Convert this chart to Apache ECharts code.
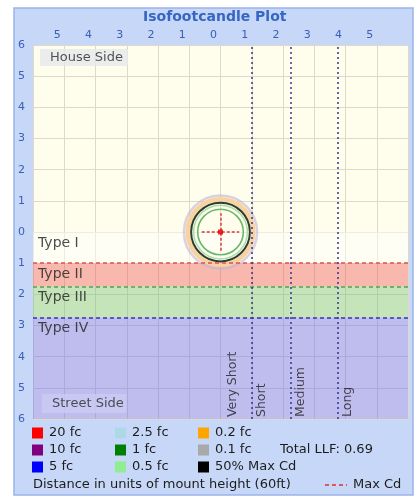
<!DOCTYPE html>
<html>
<head>
<meta charset="utf-8">
<title>Isofootcandle Plot</title>
<script src="https://cdn.jsdelivr.net/npm/echarts@6/dist/echarts.min.js"></script>
<style>
    html, body { margin: 0; padding: 0; background: #fff; }
    #chart { width: 419px; height: 500px; }
</style>
</head>
<body>
<div id="chart"></div>
<script>
    // distances are in mount heights: house side is +y, street side is -y
    const typeNames = ['Type I', 'Type II', 'Type III', 'Type IV']
    const typeBounds = [0, -1, -1.75, -2.75, -6]
    const rangeNames = ['Very Short', 'Short', 'Medium', 'Long']
    const rangeBounds = [1, 2.25, 3.75]
    const sideNames = ['House Side', 'Street Side']

    // isofootcandle contours around the luminaire (radius in mount heights)
    const contourNames = ['0.1 fc', '0.2 fc', '50% Max Cd', '0.5 fc', '1 fc']
    const contourRadii = [1.17, 1.05, 0.94, 0.86, 0.73]
    const maxCdPoint = [0, 0]
    const maxCdReach = 0.6

    const legendNames = ['20 fc', '10 fc', '5 fc', '2.5 fc', '1 fc', '0.5 fc', '0.2 fc', '0.1 fc', '50% Max Cd']
    const legendColors = ['#ff0000', '#800080', '#0000ff', '#add8e6', '#008000', '#90ee90', '#ffa500', '#a9a9a9', '#000000']
    const totalLLF = 0.69
    const mountHeight = 60

    const typeColors = ['rgba(255,255,255,0.45)', 'rgba(240,80,80,0.4)', 'rgba(110,190,110,0.4)', 'rgba(110,110,240,0.45)']
    const typeLineColors = ['#e05050', '#50a450', '#3434b8']
    const contourStyles = {
        '0.1 fc': {stroke: 'rgba(190,182,215,0.6)', lineWidth: 2.5},
        '0.2 fc': {stroke: '#f9d2a2', lineWidth: 4.5},
        '50% Max Cd': {stroke: '#2e3c2e', lineWidth: 2},
        '0.5 fc': {stroke: '#a8dea8', lineWidth: 1.5},
        '1 fc': {stroke: '#68b868', lineWidth: 1.6}
    }

    const font = 'DejaVu Sans'
    const blue = '#3a5fb6'
    const chart = echarts.init(document.getElementById('chart'))

    // legend block under the plot
    const legendEls = []
    legendNames.forEach((name, i) => {
        const col = Math.floor(i / 3)
        const row = i % 3
        const x = 32 + col * 83
        const y = 433 + row * 17
        legendEls.push({
            type: 'rect', shape: {x: x, y: y - 5.5, width: 11, height: 11},
            style: {fill: legendColors[i]}
        })
        legendEls.push({
            type: 'text', x: x + 17, y: y,
            style: {text: name, font: '13px "' + font + '"', fill: '#1c1c1c', textVerticalAlign: 'middle'}
        })
    })
    legendEls.push({
        type: 'text', x: 280, y: 450,
        style: {text: 'Total LLF: ' + totalLLF, font: '13px "' + font + '"', fill: '#1c1c1c', textVerticalAlign: 'middle'}
    })
    legendEls.push({
        type: 'text', x: 33, y: 485,
        style: {text: 'Distance in units of mount height (' + mountHeight + 'ft)', font: '13px "' + font + '"', fill: '#1c1c1c', textVerticalAlign: 'middle'}
    })
    legendEls.push({
        type: 'line', shape: {x1: 325, y1: 485, x2: 347, y2: 485},
        style: {stroke: '#e03030', lineWidth: 1.5, lineDash: [4, 3]}
    })
    legendEls.push({
        type: 'text', x: 353, y: 485,
        style: {text: 'Max Cd', font: '13px "' + font + '"', fill: '#1c1c1c', textVerticalAlign: 'middle'}
    })

    chart.setOption({
        animation: false,
        textStyle: {fontFamily: font},
        title: {
            text: 'Isofootcandle Plot',
            left: 143,
            top: 10,
            padding: 0,
            textStyle: {color: '#3566c4', fontSize: 14, fontWeight: 'bold', fontFamily: font}
        },
        graphic: [
            {
                type: 'rect', z: -10, silent: true,
                shape: {x: 14, y: 8, width: 399, height: 487},
                style: {fill: '#c7d7f7', stroke: '#9ab4ea', lineWidth: 1.5}
            },
            {type: 'group', z: 10, silent: true, children: legendEls}
        ],
        grid: {
            left: 33, top: 45, width: 375, height: 374,
            show: true, backgroundColor: '#fffdec', borderWidth: 0
        },
        xAxis: {
            type: 'value', position: 'top',
            min: -6, max: 6, interval: 1,
            axisLine: {show: false},
            axisTick: {show: false},
            splitLine: {lineStyle: {color: '#dedacb', width: 1}},
            axisLabel: {
                color: blue, fontSize: 11, margin: 4,
                padding: [0, 14, 0, 0],
                showMinLabel: false, showMaxLabel: false,
                formatter: v => Math.abs(v)
            }
        },
        yAxis: {
            type: 'value',
            min: -6, max: 6, interval: 1,
            axisLine: {show: false},
            axisTick: {show: false},
            splitLine: {lineStyle: {color: '#dedacb', width: 1}},
            axisLabel: {
                color: blue, fontSize: 11, margin: 8,
                formatter: v => Math.abs(v)
            }
        },
        series: [
            {
                // lateral type bands and their labels
                type: 'scatter', silent: true, symbolSize: 0, z: 1,
                data: typeNames.map((n, i) => ({name: n, value: [-6, typeBounds[i]]})),
                label: {
                    show: true, position: 'inside', formatter: p => p.name,
                    align: 'left', verticalAlign: 'middle', offset: [5, 11],
                    color: '#1e1e1e', fontSize: 14
                },
                markArea: {
                    silent: true,
                    data: typeNames.map((n, i) => [
                        {yAxis: typeBounds[i], itemStyle: {color: typeColors[i]}},
                        {yAxis: typeBounds[i + 1]}
                    ])
                },
                markLine: {
                    silent: true, symbol: ['none', 'none'], label: {show: false},
                    data: typeLineColors.map((c, i) => ({
                        yAxis: typeBounds[i + 1],
                        lineStyle: {color: c, type: [4, 3], width: 1.5}
                    }))
                }
            },
            {
                // house / street side tags
                type: 'scatter', silent: true, symbolSize: 0, z: 3,
                data: [
                    {name: sideNames[0], value: [-6, 6], label: {verticalAlign: 'top', offset: [7, 4], backgroundColor: '#e6e7ec', padding: [2, 5, 2, 10]}},
                    {name: sideNames[1], value: [-6, -6], label: {verticalAlign: 'bottom', offset: [9, -6], backgroundColor: '#cacaf4', padding: [3, 3, 3, 10]}}
                ],
                label: {
                    show: true, position: 'inside', formatter: p => p.name,
                    align: 'left', color: '#2a2a2a', fontSize: 13
                }
            },
            {
                // throw ranges
                type: 'scatter', silent: true, symbolSize: 0, z: 3,
                data: rangeNames.map((n, i) => ({
                    name: n,
                    value: [rangeBounds[Math.max(0, i - 1)], -6],
                    label: {offset: i === 0 ? [2, -19] : [2, 10]}
                })),
                label: {
                    show: true, position: 'inside', formatter: p => p.name,
                    rotate: 90, align: 'left', verticalAlign: 'middle',
                    color: '#1e1e1e', fontSize: 12.5
                },
                markLine: {
                    silent: true, symbol: ['none', 'none'], label: {show: false},
                    lineStyle: {color: '#34348e', type: [2, 3], width: 1.5},
                    data: rangeBounds.map(v => ({xAxis: v}))
                }
            },
            {
                // contours
                type: 'custom', silent: true, z: 4,
                data: contourNames.map((n, i) => ({name: n, value: [maxCdPoint[0], maxCdPoint[1], contourRadii[i]]})),
                renderItem: (params, api) => {
                    const c = api.coord([api.value(0), api.value(1)])
                    const r = api.size([api.value(2), 0])[0]
                    const st = contourStyles[contourNames[params.dataIndex]]
                    return {
                        type: 'circle',
                        shape: {cx: c[0], cy: c[1], r: r},
                        style: {fill: 'none', stroke: st.stroke, lineWidth: st.lineWidth}
                    }
                }
            },
            {
                // max candela point
                type: 'scatter', silent: true, z: 5,
                symbol: 'rect', symbolSize: 5,
                itemStyle: {color: '#e00000'},
                data: [maxCdPoint],
                markLine: {
                    silent: true, symbol: ['none', 'none'], label: {show: false},
                    lineStyle: {color: '#e03838', type: [3, 2], width: 1.5},
                    data: [
                        [{coord: [maxCdPoint[0] - maxCdReach, maxCdPoint[1]]}, {coord: [maxCdPoint[0] + maxCdReach, maxCdPoint[1]]}],
                        [{coord: [maxCdPoint[0], maxCdPoint[1] - maxCdReach]}, {coord: [maxCdPoint[0], maxCdPoint[1] + maxCdReach]}]
                    ]
                }
            }
        ]
    })
</script>
</body>
</html>
